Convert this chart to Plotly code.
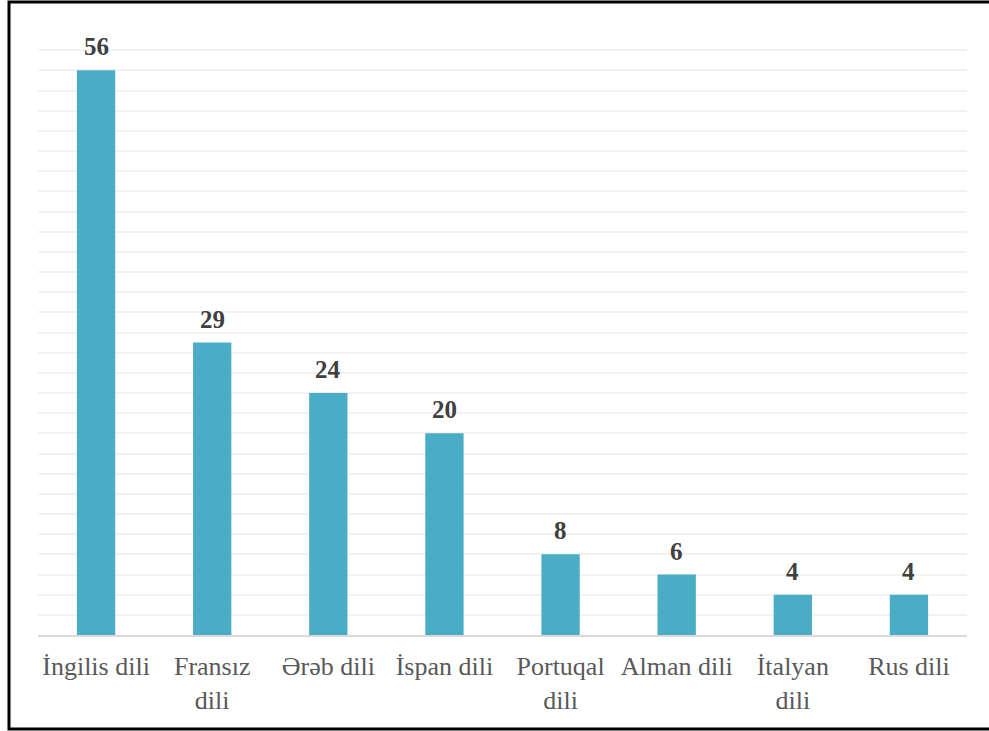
import plotly.graph_objects as go

categories = ["İngilis dili", "Fransız<br>dili", "Ərəb dili", "İspan dili",
              "Portuqal<br>dili", "Alman dili", "İtalyan<br>dili", "Rus dili"]
values = [56, 29, 24, 20, 8, 6, 4, 4]

W, H = 989, 731
ml, mr, mt, mb = 38, 22, 30, 96

fig = go.Figure()
fig.add_trace(go.Bar(
    x=categories, y=values,
    marker=dict(color="#4BACC6", line=dict(width=0)),
    width=0.33,
    hoverinfo="skip",
))

for c, v in zip(categories, values):
    fig.add_annotation(
        x=c, y=v, text=f"<b>{v}</b>", showarrow=False,
        yanchor="bottom", yshift=8,
        font=dict(family="Liberation Serif", size=25, color="#404040"),
    )

pw = W - ml - mr
ph = H - mt - mb
# outer black frame
fig.add_shape(
    type="rect", xref="paper", yref="paper",
    x0=(9 - ml) / pw, x1=(1000 - ml) / pw,
    y0=(H - 729 - mb) / ph, y1=(H - 2 - mb) / ph,
    line=dict(color="#000000", width=3), fillcolor="rgba(0,0,0,0)",
    layer="above",
)

fig.update_layout(
    width=W, height=H,
    margin=dict(l=ml, r=mr, t=mt, b=mb, pad=0),
    paper_bgcolor="white", plot_bgcolor="white",
    showlegend=False,
    bargap=0.67,
    font=dict(family="Liberation Serif", size=26, color="#595959"),
    xaxis=dict(
        showgrid=False, showline=True, linecolor="#d9d9d9", linewidth=2,
        ticks="", tickfont=dict(family="Liberation Serif", size=26, color="#595959"),
        ticklabelstandoff=7,
    ),
    yaxis=dict(
        range=[0, 60], dtick=2, showgrid=True, gridcolor="#f2f2f2", gridwidth=2,
        showticklabels=False, zeroline=False, ticks="",
    ),
)

fig.write_html(
    "out.html",
    config={"displayModeBar": False},
    post_script="document.body.style.margin='0';document.body.style.overflow='hidden';",
)
